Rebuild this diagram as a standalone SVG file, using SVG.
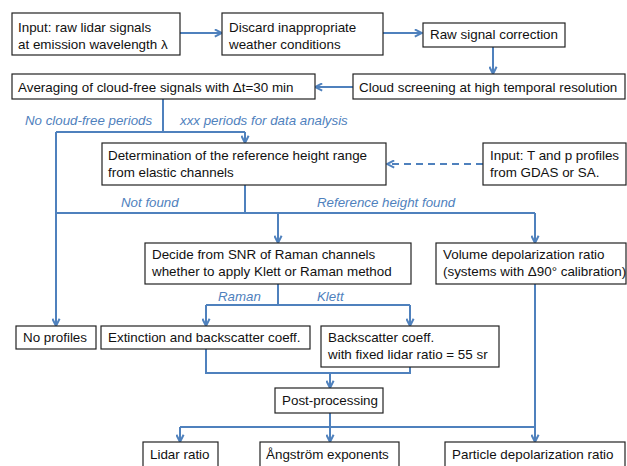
<svg xmlns="http://www.w3.org/2000/svg" width="627" height="466" viewBox="0 0 627 466">
<defs>
<style>
.box{fill:#fff;stroke:#222;stroke-width:1.2}
.t{font-family:"Liberation Sans",Arial,sans-serif;font-size:13.4px;fill:#111}
.lbl{font-family:"Liberation Sans",Arial,sans-serif;font-size:13.3px;font-style:italic;fill:#4F81BD}
.ln{fill:none;stroke:#4F81BD;stroke-width:2}
.ar{fill:none;stroke:#4F81BD;stroke-width:2;marker-end:url(#ah)}
.da{fill:none;stroke:#4F81BD;stroke-width:2;stroke-dasharray:7,5;marker-end:url(#ah)}
</style>
<marker id="ah" viewBox="0 0 10 10" refX="9" refY="5" markerWidth="4.5" markerHeight="4.5" orient="auto" markerUnits="strokeWidth">
<path d="M1,1 L9,5 L1,9" fill="none" stroke="#4F81BD" stroke-width="2.2"/>
</marker>
</defs>
<rect width="627" height="466" fill="#fff"/>
<g id="connectors">
<path class="ar" d="M180,33 H222"/>
<path class="ar" d="M383,33 H422"/>
<path class="ar" d="M493,47 V74"/>
<path class="ar" d="M353,87 H315"/>
<path class="ln" d="M163,99 V132"/>
<path class="ln" d="M56,132 H245"/>
<path class="ar" d="M245,132 V143"/>
<path class="ar" d="M56,132 V326"/>
<path class="da" d="M483,164 H387"/>
<path class="ln" d="M245,185 V213"/>
<path class="ln" d="M56,213 H535"/>
<path class="ar" d="M278,213 V243"/>
<path class="ar" d="M535,213 V243"/>
<path class="ln" d="M278,284 V305"/>
<path class="ln" d="M206,305 H410"/>
<path class="ar" d="M206,305 V326"/>
<path class="ar" d="M410,305 V326"/>
<path class="ln" d="M206,349 V373 H410 V367"/>
<path class="ar" d="M330,373 V388"/>
<path class="ln" d="M330,413 V427"/>
<path class="ln" d="M180,427 H535"/>
<path class="ar" d="M180,427 V442"/>
<path class="ar" d="M330,427 V442"/>
<path class="ar" d="M535,284 V442"/>
</g>
<g id="labels">
<text class="lbl" x="25" y="125">No cloud-free periods</text>
<text class="lbl" x="180" y="125">xxx periods for data analysis</text>
<text class="lbl" x="121" y="207">Not found</text>
<text class="lbl" x="317" y="207">Reference height found</text>
<text class="lbl" x="218" y="301">Raman</text>
<text class="lbl" x="317" y="301">Klett</text>
</g>
<g id="n1"><rect class="box" x="12" y="13" width="168" height="42"/><text class="t" x="18" y="32">Input: raw lidar signals</text><text class="t" x="18" y="49">at emission wavelength λ</text></g>
<g id="n2"><rect class="box" x="222" y="13" width="161" height="42"/><text class="t" x="229" y="32">Discard inappropriate</text><text class="t" x="229" y="49">weather conditions</text></g>
<g id="n3"><rect class="box" x="423" y="23" width="142" height="24"/><text class="t" x="430" y="39">Raw signal correction</text></g>
<g id="n4"><rect class="box" x="353" y="74" width="272" height="25"/><text class="t" x="359" y="92">Cloud screening at high temporal resolution</text></g>
<g id="n5"><rect class="box" x="12" y="74" width="303" height="25"/><text class="t" x="18" y="92">Averaging of cloud-free signals with Δt=30 min</text></g>
<g id="n6"><rect class="box" x="102" y="143" width="284" height="42"/><text class="t" x="108" y="160">Determination of the reference height range</text><text class="t" x="108" y="177">from elastic channels</text></g>
<g id="n7"><rect class="box" x="483" y="143" width="143" height="42"/><text class="t" x="490" y="160">Input: T and p profiles</text><text class="t" x="490" y="177">from GDAS or SA.</text></g>
<g id="n8"><rect class="box" x="145" y="243" width="266" height="41"/><text class="t" x="152" y="259">Decide from SNR of Raman channels</text><text class="t" x="152" y="276">whether to apply Klett or Raman method</text></g>
<g id="n9"><rect class="box" x="436" y="243" width="190" height="41"/><text class="t" x="443" y="259">Volume depolarization ratio</text><text class="t" x="443" y="276">(systems with Δ90° calibration)</text></g>
<g id="n10"><rect class="box" x="16" y="326" width="80" height="23"/><text class="t" x="23" y="342">No profiles</text></g>
<g id="n11"><rect class="box" x="101" y="326" width="209" height="23"/><text class="t" x="108" y="342">Extinction and backscatter coeff.</text></g>
<g id="n12"><rect class="box" x="321" y="326" width="178" height="41"/><text class="t" x="328" y="342">Backscatter coeff.</text><text class="t" x="328" y="359">with fixed lidar ratio = 55 sr</text></g>
<g id="n13"><rect class="box" x="275" y="388" width="108" height="25"/><text class="t" x="282" y="405">Post-processing</text></g>
<g id="n14"><rect class="box" x="143" y="442" width="75" height="30"/><text class="t" x="150" y="459">Lidar ratio</text></g>
<g id="n15"><rect class="box" x="260" y="442" width="139" height="30"/><text class="t" x="266" y="459">Ångström exponents</text></g>
<g id="n16"><rect class="box" x="445" y="442" width="180" height="30"/><text class="t" x="452" y="459">Particle depolarization ratio</text></g>
</svg>
